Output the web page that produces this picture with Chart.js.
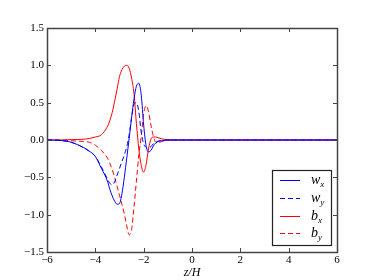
<!DOCTYPE html>
<html>
<head>
<meta charset="utf-8">
<script src="https://cdn.jsdelivr.net/npm/chart.js@4/dist/chart.umd.min.js"></script>
<style>
  html, body { margin: 0; padding: 0; background: #fff; }
  canvas { display: block; }
</style>
</head>
<body>
<canvas id="chart" width="374" height="280"></canvas>
<script>
// z/H sample positions shared by all series
const zValues = [-6, -5.5, -5, -4.5, -4.25, -4, -3.75, -3.5, -3.4, -3.3, -3.2, -3.1, -3.0,
  -2.9, -2.8, -2.7, -2.6, -2.5, -2.4, -2.3, -2.2, -2.1, -2.0, -1.9, -1.8, -1.7, -1.6,
  -1.5, -1.4, -1.25, -1.0, -0.5, 0, 1, 2, 3, 4, 5, 6];

const wx = [0, -0.005, -0.03, -0.1, -0.15, -0.22, -0.38, -0.55, -0.66, -0.75, -0.82, -0.86, -0.85,
  -0.72, -0.5, -0.24, 0.02, 0.3, 0.55, 0.72, 0.76, 0.6, 0.2, -0.08, -0.16, -0.14, -0.08,
  -0.04, -0.02, -0.01, 0, 0, 0, 0, 0, 0, 0, 0, 0];

const wy = [0, -0.005, -0.03, -0.1, -0.15, -0.22, -0.36, -0.52, -0.58, -0.6, -0.56, -0.47, -0.38,
  -0.29, -0.2, -0.09, 0.07, 0.3, 0.48, 0.5, 0.38, 0.1, -0.05, -0.1, -0.11, -0.09, -0.05,
  -0.03, -0.015, -0.005, 0, 0, 0, 0, 0, 0, 0, 0, 0];

const bx = [0, 0, 0.005, 0.01, 0.02, 0.04, 0.07, 0.18, 0.26, 0.37, 0.52, 0.68, 0.85,
  0.94, 0.99, 1.0, 0.96, 0.83, 0.62, 0.22, -0.12, -0.34, -0.43, -0.33, -0.12, 0.01, 0.04,
  0.04, 0.03, 0.015, 0.005, 0, 0, 0, 0, 0, 0, 0, 0];

const by = [0, 0, -0.01, -0.02, -0.03, -0.07, -0.14, -0.24, -0.31, -0.4, -0.5, -0.62, -0.74,
  -0.86, -0.99, -1.15, -1.27, -1.2, -0.9, -0.55, -0.2, 0.05, 0.35, 0.46, 0.38, 0.2, 0.05,
  -0.03, -0.04, -0.02, -0.005, 0, 0, 0, 0, 0, 0, 0, 0];

const seriesLabels = ['w_x', 'w_y', 'b_x', 'b_y'];

const xTicks = [-6, -4, -2, 0, 2, 4, 6];
const yTicks = [-1.5, -1.0, -0.5, 0.0, 0.5, 1.0, 1.5];

const SERIF = '"Liberation Serif", "DejaVu Serif", serif';
const minus = s => s.replace('-', '\u2212');

function pts(values) {
  return zValues.map((z, i) => ({ x: z, y: values[i] }));
}

function line(label, values, color, dash) {
  return {
    label: label,
    data: pts(values),
    borderColor: color,
    backgroundColor: 'transparent',
    borderWidth: 1,
    borderDash: dash,
    pointRadius: 0,
    cubicInterpolationMode: 'monotone'
  };
}

// frame, inward ticks on all four sides, and a legend box with subscripts
const framePlugin = {
  id: 'frame',
  afterDraw(chart) {
    const { ctx, chartArea: a, scales } = chart;
    ctx.save();
    ctx.strokeStyle = '#444';
    ctx.lineWidth = 1;
    ctx.beginPath();
    xTicks.forEach(v => {
      const px = Math.round(scales.x.getPixelForValue(v)) + 0.5;
      ctx.moveTo(px, a.bottom); ctx.lineTo(px, a.bottom - 4);
      ctx.moveTo(px, a.top); ctx.lineTo(px, a.top + 4);
    });
    yTicks.forEach(v => {
      const py = Math.round(scales.y.getPixelForValue(v)) + 0.5;
      ctx.moveTo(a.left, py); ctx.lineTo(a.left + 4, py);
      ctx.moveTo(a.right, py); ctx.lineTo(a.right - 4, py);
    });
    ctx.stroke();
    ctx.lineWidth = 1.5;
    ctx.strokeRect(Math.round(a.left) + 0.5, Math.round(a.top) + 0.5,
      Math.round(a.right - a.left), Math.round(a.bottom - a.top));

    // legend
    const lx = a.right - 65, ly = a.bottom - 82, lw = 59, lh = 75;
    ctx.fillStyle = '#fff';
    ctx.fillRect(lx, ly, lw, lh);
    ctx.strokeStyle = '#222';
    ctx.lineWidth = 1.2;
    ctx.strokeRect(lx + 0.5, ly + 0.5, lw, lh);
    chart.data.datasets.forEach((ds, i) => {
      const y = Math.round(ly + 10 + i * 17.8) + 0.5;
      ctx.strokeStyle = ds.borderColor;
      ctx.lineWidth = 1;
      ctx.setLineDash(ds.borderDash || []);
      ctx.beginPath();
      ctx.moveTo(lx + 8, y); ctx.lineTo(lx + 28, y);
      ctx.stroke();
      ctx.setLineDash([]);
      const [base, sub] = ds.label.split('_');
      ctx.fillStyle = '#000';
      ctx.textBaseline = 'alphabetic';
      ctx.font = 'italic 14px ' + SERIF;
      ctx.fillText(base, lx + 39, y + 3);
      const bw = ctx.measureText(base).width;
      ctx.font = 'italic 9px ' + SERIF;
      ctx.fillText(sub, lx + 39 + bw, y + 6);
    });
    ctx.restore();
  }
};

new Chart(document.getElementById('chart'), {
  type: 'line',
  data: {
    datasets: [
      line(seriesLabels[0], wx, '#0000ff', []),
      line(seriesLabels[1], wy, '#0000ff', [5, 3]),
      line(seriesLabels[2], bx, '#ff0000', []),
      line(seriesLabels[3], by, '#ff0000', [5, 3])
    ]
  },
  options: {
    responsive: false,
    animation: false,
    devicePixelRatio: 1,
    layout: { padding: { top: 28, right: 37, left: 0, bottom: 0 } },
    plugins: { legend: { display: false }, tooltip: { enabled: false } },
    scales: {
      x: {
        type: 'linear',
        min: -6, max: 6,
        grid: { display: false, drawTicks: false },
        border: { display: false },
        afterBuildTicks: s => { s.ticks = xTicks.map(v => ({ value: v })); },
        ticks: {
          padding: 2,
          color: '#000',
          font: { family: SERIF, size: 11 },
          callback: v => minus(String(v))
        },
        title: {
          display: true,
          text: 'z/H',
          color: '#000',
          font: { family: SERIF, size: 12, style: 'italic' },
          padding: { top: 0, bottom: 0 }
        },
        afterFit: s => { s.height = 28; }
      },
      y: {
        min: -1.5, max: 1.5,
        grid: { display: false, drawTicks: false },
        border: { display: false },
        afterBuildTicks: s => { s.ticks = yTicks.map(v => ({ value: v })); },
        ticks: {
          padding: 3,
          color: '#000',
          font: { family: SERIF, size: 11 },
          callback: v => minus(v.toFixed(1))
        },
        afterFit: s => { s.width = 47; }
      }
    }
  },
  plugins: [framePlugin]
});
</script>
</body>
</html>
